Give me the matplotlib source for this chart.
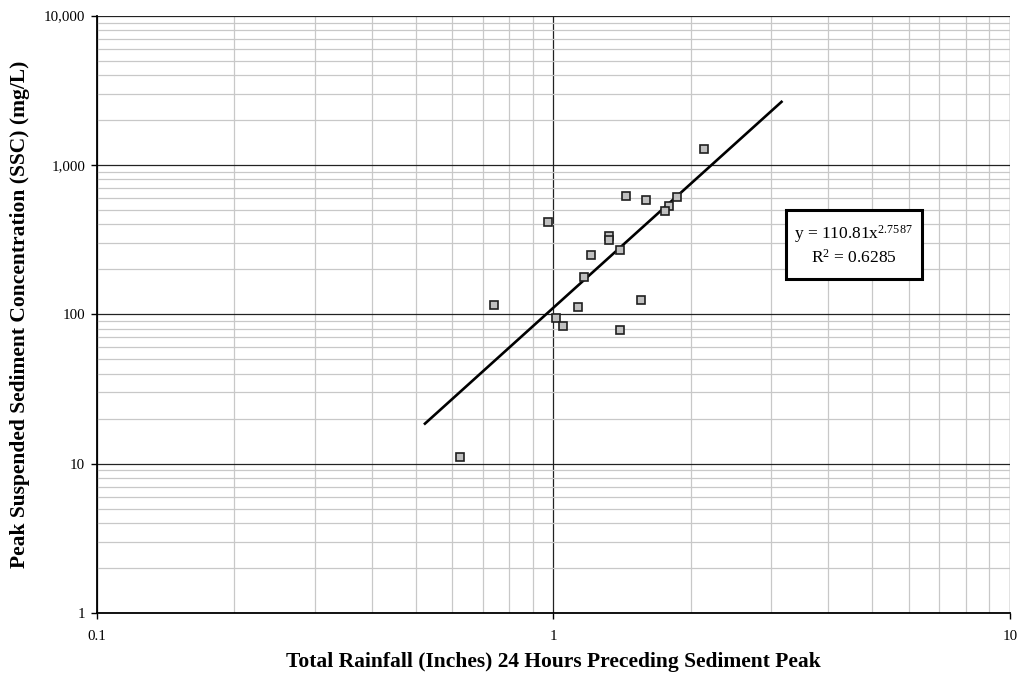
import numpy as np
import matplotlib
matplotlib.use('Agg')
import matplotlib.pyplot as plt
from matplotlib.patches import Rectangle
from matplotlib.ticker import FuncFormatter, LogLocator, NullFormatter

# rainfall (inches) vs peak SSC (mg/L)
rainfall = [2.14, 1.442, 1.598, 1.867, 1.79, 1.754, 0.973, 1.326, 1.326, 1.402,
            1.209, 1.169, 0.741, 1.130, 1.555, 1.012, 1.052, 1.402, 0.624]
ssc = [1281, 620, 580, 608, 534, 492, 413, 333, 313, 271,
       251, 179, 115, 112, 125, 95, 83.5, 78.5, 11.06]

# power trendline y = a * x^b
fit_a = 110.81
fit_b = 2.7587
fit_r2 = 0.6285
fit_range = [0.523, 3.16]

plt.rcParams['font.family'] = ['Liberation Serif', 'DejaVu Serif']
plt.rcParams['mathtext.fontset'] = 'custom'
plt.rcParams['mathtext.rm'] = 'Liberation Serif'
plt.rcParams['mathtext.it'] = 'Liberation Serif:italic'
plt.rcParams['mathtext.bf'] = 'Liberation Serif:bold'

fig = plt.figure(figsize=(10.18, 6.82), dpi=100)
ax = fig.add_axes([0.0953, 0.1012, 0.8967, 0.8758])

ax.set_xscale('log')
ax.set_yscale('log')
ax.set_xlim(0.1, 10)
ax.set_ylim(1, 10000)

# gridlines: light minor, dark major
ax.xaxis.set_minor_locator(LogLocator(base=10, subs=np.arange(2, 10)))
ax.yaxis.set_minor_locator(LogLocator(base=10, subs=np.arange(2, 10)))
ax.grid(which='minor', color='#c8c8c8', linewidth=0.9)
ax.grid(which='major', color='#222222', linewidth=0.9)
ax.set_axisbelow(True)

# trendline
xs = np.logspace(np.log10(fit_range[0]), np.log10(fit_range[1]), 50)
ax.plot(xs, fit_a * xs ** fit_b, color='black', linewidth=1.9, zorder=3)

# data points
ax.plot(rainfall, ssc, linestyle='none', marker='s', markersize=6.3,
        markerfacecolor='#c0c0c0', markeredgecolor='#202020', markeredgewidth=1.2, zorder=4)

ax.xaxis.set_major_formatter(FuncFormatter(lambda v, p: '%g' % v))
ax.yaxis.set_major_formatter(FuncFormatter(lambda v, p: '{:,.0f}'.format(v)))
ax.xaxis.set_minor_formatter(NullFormatter())
ax.yaxis.set_minor_formatter(NullFormatter())
ax.tick_params(which='major', direction='out', length=4, width=1, labelsize=10.8, colors='black')
ax.tick_params(axis='x', which='major', pad=8)
ax.tick_params(axis='y', which='major', pad=4.5)
ax.tick_params(which='minor', length=0)

for s in ['left', 'bottom']:
    ax.spines[s].set_linewidth(1.3)
    ax.spines[s].set_color('black')
for s in ['top', 'right']:
    ax.spines[s].set_visible(False)

ax.set_xlabel('Total Rainfall (Inches) 24 Hours Preceding Sediment Peak',
              fontsize=15.5, fontweight='bold', labelpad=7)
ax.set_ylabel('Peak Suspended Sediment Concentration (SSC) (mg/L)',
              fontsize=15.5, fontweight='bold', labelpad=10)

# equation box
ax.add_patch(Rectangle((0.7547, 0.5588), 0.1489, 0.1157, transform=ax.transAxes,
                       facecolor='white', edgecolor='black', linewidth=2.2, zorder=5))
eq = 'y = %.2fx$^{%.4f}$\nR$^{2}$ = %.4f' % (fit_a, fit_b, fit_r2)
ax.text(0.829, 0.6168, eq, transform=ax.transAxes, fontsize=12.5, ha='center', va='center',
        linespacing=1.25, zorder=6)

fig.savefig('out.png', dpi=100)
